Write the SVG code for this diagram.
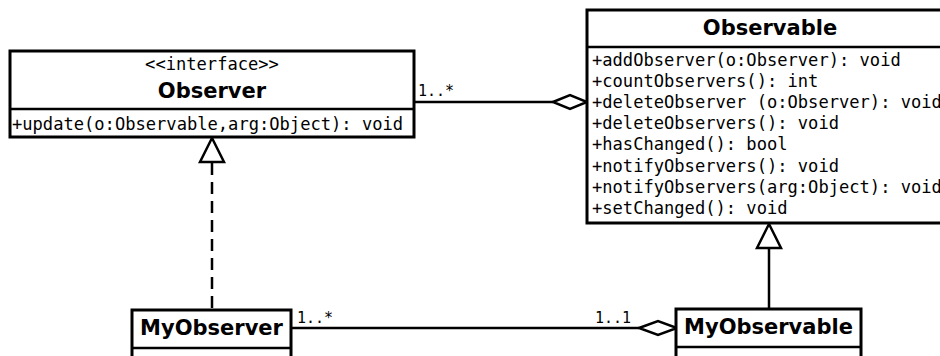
<svg xmlns="http://www.w3.org/2000/svg" width="940" height="356" viewBox="0 0 940 356">
<style>
.box{fill:#fff;stroke:#000;stroke-width:3}
.div{stroke:#000;stroke-width:2.5}
.t{font-family:"DejaVu Sans","Liberation Sans",sans-serif;font-weight:bold;font-size:21px;fill:#000}
.m{font-family:"DejaVu Sans Mono","Liberation Mono",monospace;font-size:17.1px;fill:#000}
.l{font-family:"DejaVu Sans Mono","Liberation Mono",monospace;font-size:15px;fill:#000}
.c{fill:none;stroke:#000;stroke-width:2.5}
.h{fill:#fff;stroke:#000;stroke-width:2.5}
</style>
<rect width="940" height="356" fill="#fff"/>
<g id="connectors">
<line class="c" x1="414" y1="102" x2="553" y2="102"/>
<polygon class="h" points="553,102 570,95 587,102 570,109"/>
<text class="l" x="418" y="96">1..*</text>
<line class="c" x1="291" y1="328" x2="639" y2="328"/>
<polygon class="h" points="639,328 658,321 677,328 658,335"/>
<text class="l" x="297" y="323">1..*</text>
<text class="l" x="595" y="323">1..1</text>
<line class="c" x1="212" y1="163" x2="212" y2="310" stroke-dasharray="12,7"/>
<polygon class="h" points="212,138 200,162 224,162"/>
<line class="c" x1="769" y1="248" x2="769" y2="309"/>
<polygon class="h" points="769,224 757,248 781,248"/>
</g>
<g id="Observer">
<rect class="box" x="10" y="51" width="404" height="86"/>
<line class="div" x1="10" y1="109" x2="414" y2="109"/>
<text class="m" x="212" y="70" text-anchor="middle">&lt;&lt;interface&gt;&gt;</text>
<text class="t" x="212" y="98" text-anchor="middle">Observer</text>
<text class="m" x="12" y="130">+update(o:Observable,arg:Object): void</text>
</g>
<g id="Observable">
<rect class="box" x="587" y="10" width="370" height="213"/>
<line class="div" x1="587" y1="47" x2="957" y2="47"/>
<text class="t" x="770" y="35" text-anchor="middle">Observable</text>
<text class="m" x="592" y="66">+addObserver(o:Observer): void</text>
<text class="m" x="592" y="87">+countObservers(): int</text>
<text class="m" x="592" y="108">+deleteObserver (o:Observer): void</text>
<text class="m" x="592" y="129">+deleteObservers(): void</text>
<text class="m" x="592" y="150">+hasChanged(): bool</text>
<text class="m" x="592" y="172">+notifyObservers(): void</text>
<text class="m" x="592" y="193">+notifyObservers(arg:Object): void</text>
<text class="m" x="592" y="214">+setChanged(): void</text>
</g>
<g id="MyObserver">
<rect class="box" x="132" y="310" width="159" height="60"/>
<line class="div" x1="132" y1="348" x2="291" y2="348"/>
<text class="t" x="211.5" y="335" text-anchor="middle">MyObserver</text>
</g>
<g id="MyObservable">
<rect class="box" x="676" y="309" width="185" height="60"/>
<line class="div" x1="676" y1="347" x2="861" y2="347"/>
<text class="t" x="768.5" y="334" text-anchor="middle">MyObservable</text>
</g>
</svg>
